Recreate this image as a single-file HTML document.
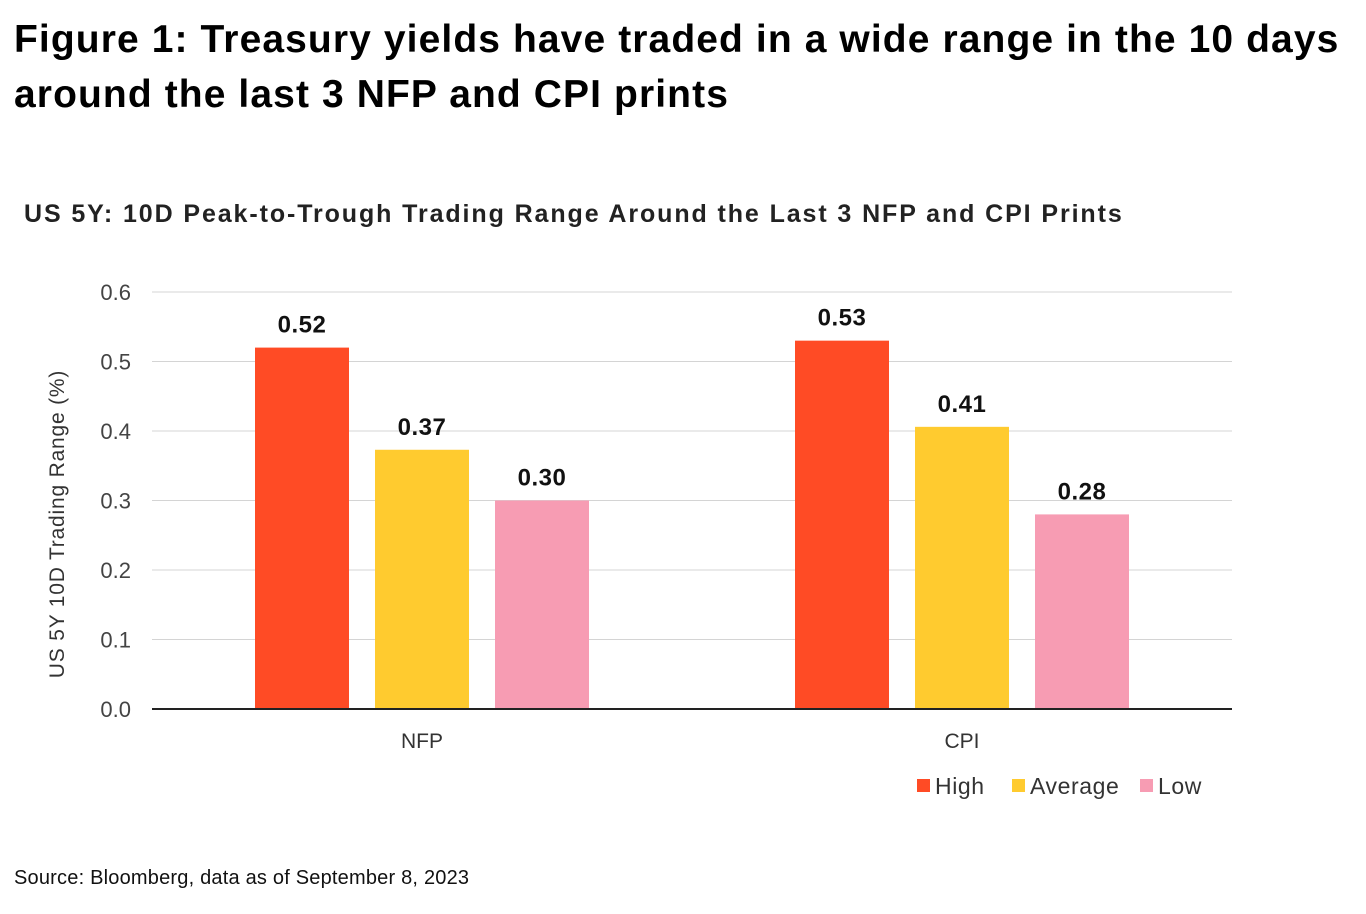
<!DOCTYPE html>
<html><head><meta charset="utf-8"><style>
body{margin:0;width:1366px;height:914px;background:#fff;font-family:"Liberation Sans",sans-serif;overflow:hidden;position:relative}
.t{position:absolute;left:14px;top:12px;font-size:39px;font-weight:bold;line-height:55px;color:#000;letter-spacing:1.1px;white-space:nowrap}
.src{position:absolute;left:14px;top:867px;font-size:20px;color:#111;letter-spacing:0.2px}
svg{position:absolute;left:0;top:0}
</style></head><body>
<div class="t">Figure 1: Treasury yields have traded in a wide range in the 10 days<br>around the last 3 NFP and CPI prints</div>
<svg id="c" width="1366" height="914"></svg>
<div class="src">Source: Bloomberg, data as of September 8, 2023</div>
<script>
const categories=["NFP","CPI"];
const seriesNames=["High","Average","Low"];
const highVals=[0.52,0.53];
const avgVals=[0.373,0.406];
const lowVals=[0.30,0.28];
const valueLabels=[["0.52","0.53"],["0.37","0.41"],["0.30","0.28"]];
const ticks=[0,0.1,0.2,0.3,0.4,0.5,0.6];
const colors=["#FF4B25","#FFCB2F","#F79CB3"];
const NS="http://www.w3.org/2000/svg";
const svg=document.getElementById('c');
function mk(t,a,p){const e=document.createElementNS(NS,t);for(const k in a)e.setAttribute(k,a[k]);(p||svg).appendChild(e);return e;}
const y=v=>709-v/0.6*417;
const groupX=i=>255+i*540;
const barX=(i,s)=>groupX(i)+s*120;
const tt=mk('text',{x:24,y:222,'font-size':25,'font-weight':'bold',fill:'#222','letter-spacing':1.9});tt.textContent="US 5Y: 10D Peak-to-Trough Trading Range Around the Last 3 NFP and CPI Prints";


ticks.forEach(v=>{
 if(v>0){const l=mk('line',{x1:152,x2:1232,y1:y(v),y2:y(v),stroke:'#d4d4d4','stroke-width':1});
 
 }
 const t=mk('text',{x:131,y:y(v)+8,'font-size':22,fill:'#444','text-anchor':'end'});t.textContent=v.toFixed(1);
 
 
});
const yt=mk('text',{transform:'translate(64,524) rotate(-90)','font-size':21,fill:'#333','text-anchor':'middle','letter-spacing':0.8});yt.textContent="US 5Y 10D Trading Range (%)";


const series=[highVals,avgVals,lowVals];
series.forEach((vals,s)=>vals.forEach((v,i)=>{
 const r=mk('rect',{x:barX(i,s),y:y(v),width:94,height:709-y(v),fill:colors[s]});
 
 
 const t=mk('text',{x:barX(i,s)+47,y:y(v)-15,'font-size':24,'font-weight':'bold',fill:'#111','text-anchor':'middle','letter-spacing':0.5});t.textContent=valueLabels[s][i];
 
 
}));
const ax=mk('line',{x1:152,x2:1232,y1:709,y2:709,stroke:'#222','stroke-width':2});


categories.forEach((c,i)=>{const t=mk('text',{x:groupX(i)+167,y:748,'font-size':21,fill:'#333','text-anchor':'middle'});t.textContent=c;
 
 });
const lx=[917,1012,1140];
seriesNames.forEach((n,s)=>{
 const g=mk('g',{});
 
 
 mk('rect',{x:lx[s],y:779,width:13,height:13,fill:colors[s]},g);
 const t=mk('text',{x:lx[s]+18,y:794,'font-size':23,fill:'#333','letter-spacing':0.6},g);t.textContent=n;
});
</script>
</body></html>
